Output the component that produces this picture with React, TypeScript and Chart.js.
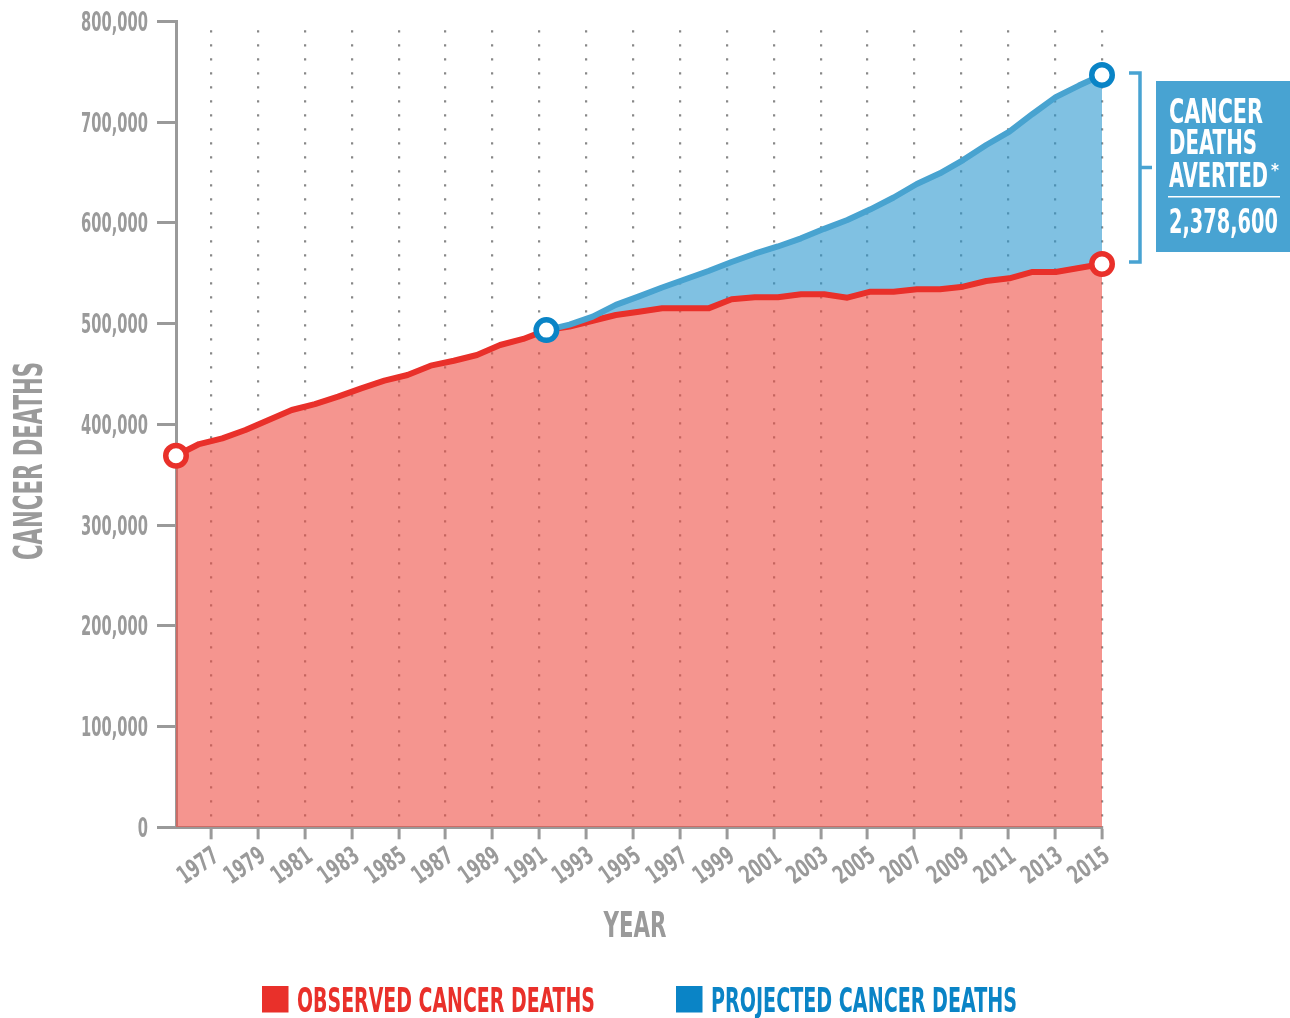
import React, { useEffect, useRef } from 'react';
import { Chart, registerables } from 'chart.js';

Chart.register(...registerables);

// ---------- data ----------
const YEARS = [
  1975, 1976, 1977, 1978, 1979, 1980, 1981, 1982, 1983, 1984,
  1985, 1986, 1987, 1988, 1989, 1990, 1991, 1992, 1993, 1994,
  1995, 1996, 1997, 1998, 1999, 2000, 2001, 2002, 2003, 2004,
  2005, 2006, 2007, 2008, 2009, 2010, 2011, 2012, 2013, 2014, 2015,
];

const OBSERVED = [
  368800, 380400, 386100, 394300, 404300, 414200, 420100, 427400, 435700, 443300,
  448900, 458200, 463100, 468800, 478700, 484700, 493500, 497000, 502800, 508500,
  511700, 515100, 515100, 515100, 524100, 526100, 526100, 529000, 529000, 525700,
  531600, 531600, 534000, 534000, 536600, 542200, 544900, 551200, 551200, 555100, 559100,
];

const PROJECTION_START = 1991;
const PROJECTED = [
  493500, 499000, 506800, 518500, 527000, 535800, 544000, 552200, 561100, 569300,
  576500, 584600, 594000, 602800, 613400, 625100, 638500, 649100, 662300, 677200,
  690400, 708000, 724700, 736200, 746700,
];

const TICK_YEARS = [
  1977, 1979, 1981, 1983, 1985, 1987, 1989, 1991, 1993, 1995,
  1997, 1999, 2001, 2003, 2005, 2007, 2009, 2011, 2013, 2015,
];

const Y_MAX = 800000;
const Y_STEP = 100000;
const AVERTED_TOTAL = 2378600;

const LABEL_OBSERVED = 'OBSERVED CANCER DEATHS';
const LABEL_PROJECTED = 'PROJECTED CANCER DEATHS';
const TITLE_Y = 'CANCER DEATHS';
const TITLE_X = 'YEAR';
const AVERTED_LINES = ['CANCER', 'DEATHS', 'AVERTED'];

// ---------- style ----------
const FONT = '"Liberation Sans Narrow", "DejaVu Sans Condensed", "Arial Narrow", sans-serif';
const GRAY = '#9a9a9a';
const RED_LINE = '#e9302a';
const RED_FILL = 'rgba(238,78,68,0.6)';
const BLUE_LINE = '#48a3d0';
const BLUE_FILL = 'rgba(43,152,207,0.6)';
const BLUE_DOT = '#0a84c6';
const BOX_BLUE = '#48a3d2';

const fmtY = (v: number) => Number(v).toLocaleString('en-US');
const fmtX = (v: number) => String(v);

function setFont(ctx: CanvasRenderingContext2D, cap: number) {
  ctx.font = `bold ${cap / 0.716}px ${FONT}`;
}

// draws text with cap height `cap`, squeezed horizontally by `sx`
function drawText(
  ctx: CanvasRenderingContext2D,
  text: string,
  x: number,
  y: number,
  cap: number,
  sx: number,
  align: CanvasTextAlign,
  color: string,
  rotate = 0,
) {
  ctx.save();
  setFont(ctx, cap);
  ctx.translate(x, y);
  if (rotate) ctx.rotate(rotate);
  ctx.scale(sx, 1);
  ctx.textAlign = align;
  ctx.textBaseline = 'alphabetic';
  ctx.fillStyle = color;
  ctx.fillText(text, 0, 0);
  ctx.restore();
}

function squeezeFor(ctx: CanvasRenderingContext2D, text: string, cap: number, width: number) {
  ctx.save();
  setFont(ctx, cap);
  const w = ctx.measureText(text).width || 1;
  ctx.restore();
  return width / w;
}

function fitText(
  ctx: CanvasRenderingContext2D,
  text: string,
  x: number,
  y: number,
  cap: number,
  width: number,
  align: CanvasTextAlign,
  color: string,
  rotate = 0,
) {
  drawText(ctx, text, x, y, cap, squeezeFor(ctx, text, cap, width), align, color, rotate);
}

const decorPlugin = {
  id: 'decor',
  afterDraw(chart: any) {
    const { ctx, chartArea: a, scales } = chart;
    const xs = scales.x;
    const x2 = scales.x2;
    const ys = scales.y;

    // y tick labels (from the library's ticks)
    const yCap = 19;
    const ySx = squeezeFor(ctx, fmtY(Y_MAX), yCap, 67);
    ys.ticks.forEach((t: any) => {
      const py = ys.getPixelForValue(t.value);
      drawText(ctx, fmtY(t.value), a.left - 28, py + yCap / 2, yCap, ySx, 'right', GRAY);
    });

    // x tick labels, rotated
    const xCap = 18;
    const xSx = squeezeFor(ctx, fmtX(TICK_YEARS[0]), xCap, 44);
    const rot = (-35 * Math.PI) / 180;
    x2.ticks.forEach((t: any) => {
      const px = x2.getPixelForValue(t.value);
      ctx.save();
      ctx.translate(px - 1, a.bottom + 17.5);
      ctx.rotate(rot);
      ctx.scale(xSx, 1);
      setFont(ctx, xCap);
      ctx.textAlign = 'right';
      ctx.textBaseline = 'alphabetic';
      ctx.fillStyle = GRAY;
      ctx.fillText(fmtX(t.value), 0, xCap);
      ctx.restore();
    });

    // axis titles
    fitText(ctx, TITLE_Y, 42, 461, 28, 198, 'center', GRAY, -Math.PI / 2);
    fitText(ctx, TITLE_X, (a.left + a.right) / 2 - 4, a.bottom + 110, 26, 63, 'center', GRAY);

    // bracket
    const xEnd = xs.getPixelForValue(YEARS[YEARS.length - 1]);
    const yTop = ys.getPixelForValue(PROJECTED[PROJECTED.length - 1]) - 2;
    const yBot = ys.getPixelForValue(OBSERVED[OBSERVED.length - 1]) - 2;
    const mid = (yTop + yBot) / 2;
    const bx = xEnd + 38;
    ctx.save();
    ctx.strokeStyle = BOX_BLUE;
    ctx.lineWidth = 3.5;
    ctx.beginPath();
    ctx.moveTo(xEnd + 27, yTop);
    ctx.lineTo(bx, yTop);
    ctx.lineTo(bx, yBot);
    ctx.lineTo(xEnd + 27, yBot);
    ctx.moveTo(bx, mid);
    ctx.lineTo(bx + 12, mid);
    ctx.stroke();

    // box
    const boxX = xEnd + 54;
    const boxY = mid - 86.5;
    ctx.fillStyle = BOX_BLUE;
    ctx.fillRect(boxX, boxY, chart.width - boxX, 171);
    ctx.restore();

    const tx = boxX + 13;
    const widths = [94, 88, 99];
    const bases = [41.5, 73, 105.5];
    AVERTED_LINES.forEach((t, i) => {
      fitText(ctx, t, tx, boxY + bases[i], 23.5, widths[i], 'left', '#ffffff');
    });
    ctx.save();
    ctx.fillStyle = '#ffffff';
    ctx.font = `bold 17px ${FONT}`;
    ctx.textBaseline = 'alphabetic';
    ctx.fillText('*', tx + 102, boxY + 95);
    ctx.fillRect(tx - 1, boxY + 115, 112, 1.5);
    ctx.restore();
    fitText(ctx, AVERTED_TOTAL.toLocaleString('en-US'), tx, boxY + 152.3, 24, 109, 'left', '#ffffff');

    // legend
    const legend = [
      { label: LABEL_OBSERVED, color: RED_LINE, x: 262, w: 298 },
      { label: LABEL_PROJECTED, color: BLUE_DOT, x: 676, w: 306 },
    ];
    legend.forEach((it) => {
      ctx.save();
      ctx.fillStyle = it.color;
      ctx.fillRect(it.x, 986, 26.5, 26.5);
      ctx.restore();
      fitText(ctx, it.label, it.x + 35, 1012, 24, it.w, 'left', it.color);
    });
  },
};

export default function App() {
  const ref = useRef<HTMLCanvasElement | null>(null);

  useEffect(() => {
    if (!ref.current) return;
    const lastP = PROJECTED.length - 1;
    const lastO = OBSERVED.length - 1;
    const chart = new Chart(ref.current, {
      type: 'line',
      data: {
        datasets: [
          {
            label: LABEL_PROJECTED,
            data: PROJECTED.map((v, i) => ({ x: PROJECTION_START + i, y: v })),
            xAxisID: 'x',
            yAxisID: 'y',
            borderColor: BLUE_LINE,
            borderWidth: 6,
            backgroundColor: BLUE_FILL,
            fill: 1,
            tension: 0,
            borderJoinStyle: 'round',
            borderCapStyle: 'round',
            pointRadius: (c: any) => (c.dataIndex === 0 || c.dataIndex === lastP ? 10.25 : 0),
            pointBorderWidth: 5.5,
            pointBorderColor: BLUE_DOT,
            pointBackgroundColor: '#ffffff',
            clip: false,
          } as any,
          {
            label: LABEL_OBSERVED,
            data: YEARS.map((yr, i) => ({ x: yr, y: OBSERVED[i] })),
            xAxisID: 'x',
            yAxisID: 'y',
            borderColor: RED_LINE,
            borderWidth: 6,
            backgroundColor: RED_FILL,
            fill: 'origin',
            tension: 0,
            borderJoinStyle: 'round',
            borderCapStyle: 'round',
            pointRadius: (c: any) => (c.dataIndex === 0 || c.dataIndex === lastO ? 10.25 : 0),
            pointBorderWidth: 5.5,
            pointBorderColor: RED_LINE,
            pointBackgroundColor: '#ffffff',
            clip: false,
          } as any,
        ],
      },
      options: {
        animation: false,
        responsive: false,
        devicePixelRatio: 1,
        events: [],
        layout: { padding: { left: 0, top: 21.3, right: 188, bottom: 150.7 } },
        plugins: {
          legend: { display: false },
          tooltip: { enabled: false },
          filler: { drawTime: 'beforeDatasetsDraw', propagate: false },
        } as any,
        scales: {
          x: { type: 'linear', min: YEARS[0], max: YEARS[YEARS.length - 1], display: false },
          x2: {
            type: 'linear',
            position: 'bottom',
            bounds: 'data',
            min: 1975.5,
            max: 2015,
            afterBuildTicks: (s: any) => {
              s.ticks = TICK_YEARS.map((v) => ({ value: v }));
            },
            afterFit: (s: any) => {
              s.height = 40;
            },
            ticks: { display: false, autoSkip: false },
            grid: {
              drawOnChartArea: true,
              color: 'rgba(130,130,130,0.95)',
              lineWidth: 2.2,
              tickLength: 12,
              tickWidth: 3,
              tickColor: GRAY,
            },
            border: { display: true, color: GRAY, width: 3, dash: [2.2, 11.8], dashOffset: 5 },
          } as any,
          y: {
            type: 'linear',
            min: 0,
            max: Y_MAX,
            afterFit: (s: any) => {
              s.width = 176;
            },
            ticks: { display: false, stepSize: Y_STEP },
            grid: { drawOnChartArea: false, tickLength: 19, tickWidth: 3, tickColor: GRAY },
            border: { display: true, color: GRAY, width: 3 },
          } as any,
        },
      },
      plugins: [decorPlugin],
    });
    return () => chart.destroy();
  }, []);

  return (
    <div style={{ position: 'absolute', left: 0, top: 0, width: 1290, height: 1018, background: '#ffffff' }}>
      <canvas ref={ref} width={1290} height={1018} style={{ width: 1290, height: 1018, display: 'block' }} />
    </div>
  );
}
